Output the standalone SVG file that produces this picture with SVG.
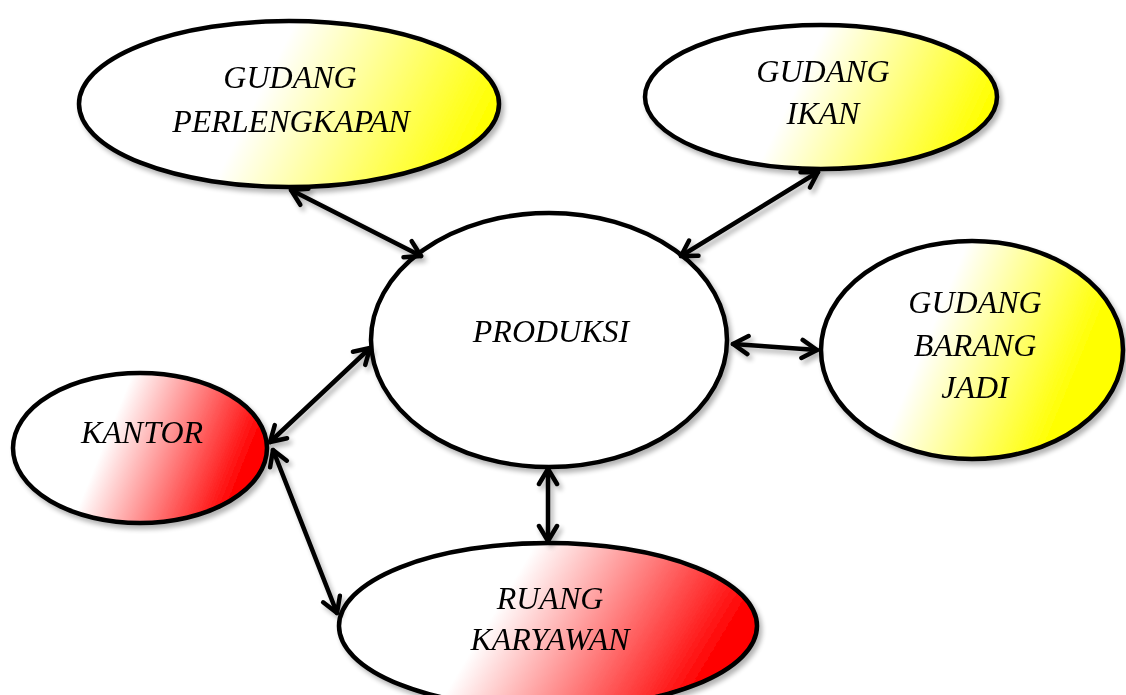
<svg xmlns="http://www.w3.org/2000/svg" width="1126" height="695" viewBox="0 0 1126 695">
  <defs>
    <linearGradient id="yellowFill" x1="0" y1="0.4" x2="1" y2="0.6">
      <stop offset="0.42" stop-color="#ffffff"/>
      <stop offset="0.97" stop-color="#ffff00"/>
    </linearGradient>
    <linearGradient id="yellowTall" x1="0" y1="0.35" x2="1" y2="0.65">
      <stop offset="0.35" stop-color="#ffffff"/>
      <stop offset="0.85" stop-color="#ffff00"/>
    </linearGradient>
    <linearGradient id="redFill" x1="0" y1="0.38" x2="1" y2="0.62">
      <stop offset="0.36" stop-color="#ffffff"/>
      <stop offset="0.92" stop-color="#ff0000"/>
    </linearGradient>
    <filter id="shadow" x="-20%" y="-20%" width="140%" height="140%">
      <feGaussianBlur in="SourceAlpha" stdDeviation="2.5"/>
      <feOffset dx="3" dy="4" result="blur"/>
      <feComponentTransfer><feFuncA type="linear" slope="0.3"/></feComponentTransfer>
      <feMerge><feMergeNode/><feMergeNode in="SourceGraphic"/></feMerge>
    </filter>
    <marker id="head" viewBox="0 0 24 24" refX="19" refY="12" markerWidth="24" markerHeight="24" markerUnits="userSpaceOnUse" orient="auto-start-reverse">
      <path d="M4,3 L19,12 L4,21" fill="none" stroke="#000" stroke-width="4.5" stroke-linecap="round" stroke-linejoin="round"/>
    </marker>
  </defs>
  <style>
    .node { stroke: #000; stroke-width: 4.5; }
    .label { font-family: "Liberation Serif", "Times New Roman", serif; font-style: italic; font-size: 32px; fill: #000; text-anchor: middle; }
    .link { stroke: #000; stroke-width: 4.5; fill: none; stroke-linecap: round; marker-start: url(#head); marker-end: url(#head); }
  </style>

  <g id="gudang-perlengkapan" filter="url(#shadow)">
    <ellipse class="node" cx="289" cy="104" rx="210" ry="83" fill="url(#yellowFill)"/>
    <text class="label" x="290" y="88">GUDANG</text>
    <text class="label" x="291" y="132">PERLENGKAPAN</text>
  </g>

  <g id="gudang-ikan" filter="url(#shadow)">
    <ellipse class="node" cx="821" cy="97" rx="176" ry="72" fill="url(#yellowFill)"/>
    <text class="label" x="823" y="82">GUDANG</text>
    <text class="label" x="823" y="124">IKAN</text>
  </g>

  <g id="produksi" filter="url(#shadow)">
    <ellipse class="node" cx="549" cy="340" rx="178" ry="127" fill="#ffffff"/>
    <text class="label" x="551" y="342">PRODUKSI</text>
  </g>

  <g id="gudang-barang-jadi" filter="url(#shadow)">
    <ellipse class="node" cx="972" cy="350" rx="151" ry="109" fill="url(#yellowTall)"/>
    <text class="label" x="975" y="313">GUDANG</text>
    <text class="label" x="975" y="356">BARANG</text>
    <text class="label" x="975" y="398">JADI</text>
  </g>

  <g id="kantor" filter="url(#shadow)">
    <ellipse class="node" cx="140" cy="448" rx="127" ry="75" fill="url(#redFill)"/>
    <text class="label" x="142" y="443">KANTOR</text>
  </g>

  <g id="ruang-karyawan" filter="url(#shadow)">
    <ellipse class="node" cx="548" cy="626" rx="209" ry="83" fill="url(#redFill)"/>
    <text class="label" x="550" y="609">RUANG</text>
    <text class="label" x="550" y="650">KARYAWAN</text>
  </g>

  <g id="connectors" filter="url(#shadow)">
    <line class="link" x1="291" y1="190" x2="421" y2="256"/>
    <line class="link" x1="818" y1="172" x2="681" y2="256"/>
    <line class="link" x1="733" y1="344" x2="817" y2="350"/>
    <line class="link" x1="370" y1="348" x2="270" y2="442"/>
    <line class="link" x1="273" y1="450" x2="337" y2="613"/>
    <line class="link" x1="548" y1="469" x2="548" y2="541"/>
  </g>
</svg>
